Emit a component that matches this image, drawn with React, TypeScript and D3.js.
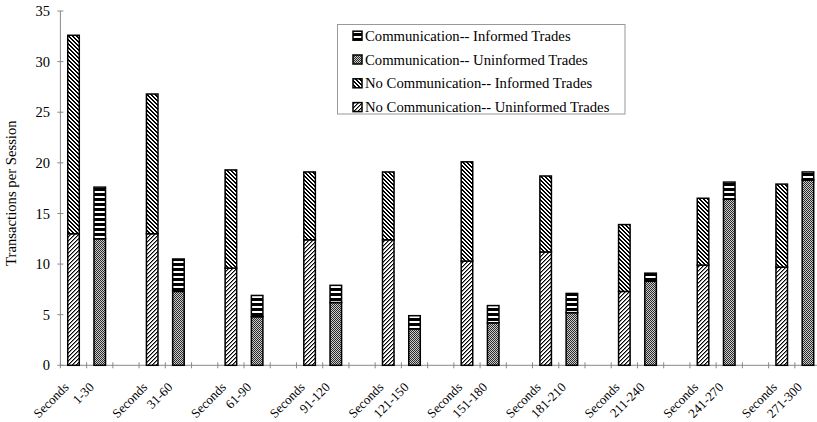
import React from "react";
import * as d3 from "d3";

// Session-time windows (seconds) for each group of bars
const periods = ["1-30", "31-60", "61-90", "91-120", "121-150", "151-180", "181-210", "211-240", "241-270", "271-300"];

// No-communication treatment (stacked: uninformed at bottom, informed on top)
const noCommUninformed = [13.0, 13.0, 9.6, 12.4, 12.4, 10.3, 11.2, 7.3, 9.9, 9.7];
const noCommInformed = [19.6, 13.8, 9.7, 6.7, 6.7, 9.8, 7.5, 6.6, 6.6, 8.2];

// Communication treatment
const commUninformed = [12.5, 7.3, 4.8, 6.2, 3.6, 4.2, 5.2, 8.3, 16.4, 18.3];
const commInformed = [5.1, 3.2, 2.1, 1.7, 1.3, 1.7, 1.9, 0.8, 1.7, 0.8];

const yTicks = [0, 5, 10, 15, 20, 25, 30, 35];
const yTitle = "Transactions per Session";
const groupWord = "Seconds";

const legendItems = [
  { label: "Communication-- Informed Trades", fill: "url(#pCommInf)" },
  { label: "Communication-- Uninformed Trades", fill: "url(#pCommUninf)" },
  { label: "No Communication-- Informed Trades", fill: "url(#pNoInf)" },
  { label: "No Communication-- Uninformed Trades", fill: "url(#pNoUninf)" },
];

const FONT = "'Liberation Serif', 'Times New Roman', serif";

// 4x4 pixel diagonal hatch built from 1px cells
function pixelCells(test: (x: number, y: number) => string | null) {
  const cells: { x: number; y: number; c: string }[] = [];
  for (let yy = 0; yy < 4; yy++)
    for (let xx = 0; xx < 4; xx++) {
      const c = test(xx, yy);
      if (c) cells.push({ x: xx, y: yy, c });
    }
  return cells;
}

export default function App() {
  const W = 817;
  const H = 422;

  const categories = periods.flatMap((_, i) => [`nc${i}`, `c${i}`, `gap${i}`]);
  const step = 26.23;
  const x0 = 60.4;
  const x = d3
    .scaleBand<string>()
    .domain(categories)
    .range([x0, x0 + step * categories.length])
    .padding(0);
  const barW = x.step() * 0.44;
  const y = d3.scaleLinear().domain([0, 35]).range([365.3, 11]);

  const stack = d3.stack<{ u: number; i: number }>().keys(["u", "i"]);
  const noCommStack = stack(periods.map((_, k) => ({ u: noCommUninformed[k], i: noCommInformed[k] })));
  const commStack = stack(periods.map((_, k) => ({ u: commUninformed[k], i: commInformed[k] })));

  const noFills = ["url(#pNoUninf)", "url(#pNoInf)"];
  const cFills = ["url(#pCommUninf)", "url(#pCommInf)"];

  const backslash = pixelCells((xx, yy) => (((xx - yy + 8) % 4) < 2 ? "#000" : null));
  const slash = pixelCells((xx, yy) => {
    const m = (xx + yy) % 4;
    return m === 0 ? "#000" : m === 1 ? "#888" : null;
  });

  const bars: JSX.Element[] = [];
  periods.forEach((_, k) => {
    [
      { key: `nc${k}`, st: noCommStack, fills: noFills },
      { key: `c${k}`, st: commStack, fills: cFills },
    ].forEach(({ key, st, fills }) => {
      const cx = (x(key) as number) + x.bandwidth() / 2;
      st.forEach((layer, li) => {
        const d = layer[k];
        bars.push(
          <rect
            key={`${key}-${li}`}
            x={cx - barW / 2}
            y={y(d[1])}
            width={barW}
            height={y(d[0]) - y(d[1])}
            fill={fills[li]}
            stroke="#000"
            strokeWidth={1.5}
          />
        );
      });
    });
  });

  const xAxisY = y(0);
  const boundaries = d3.range(categories.length + 1).map((i) => x0 + i * x.step());

  return (
    <>
      <style>{`body{margin:0;background:#fff}`}</style>
      <svg width={W} height={H} style={{ display: "block", fontFamily: FONT }}>
        <defs>
          <pattern id="pNoInf" width={4} height={4} patternUnits="userSpaceOnUse">
            <rect width={4} height={4} fill="#fff" />
            {backslash.map((c, i) => (
              <rect key={i} x={c.x} y={c.y} width={1} height={1} fill={c.c} shapeRendering="crispEdges" />
            ))}
          </pattern>
          <pattern id="pNoUninf" width={4} height={4} patternUnits="userSpaceOnUse">
            <rect width={4} height={4} fill="#fff" />
            {slash.map((c, i) => (
              <rect key={i} x={c.x} y={c.y} width={1} height={1} fill={c.c} shapeRendering="crispEdges" />
            ))}
          </pattern>
          <pattern id="pCommUninf" width={2} height={2} patternUnits="userSpaceOnUse">
            <rect width={2} height={2} fill="#cdcdcd" />
            <rect x={0} y={0} width={1} height={1} fill="#2a2a2a" shapeRendering="crispEdges" />
            <rect x={1} y={1} width={1} height={1} fill="#2a2a2a" shapeRendering="crispEdges" />
          </pattern>
          <pattern id="pCommInf" width={5} height={5} patternUnits="userSpaceOnUse">
            <rect width={5} height={5} fill="#000" />
            <rect x={0} y={1} width={5} height={2} fill="#fff" shapeRendering="crispEdges" />
          </pattern>
        </defs>

        {/* y axis */}
        <line x1={x0} x2={x0} y1={y(0)} y2={y(35)} stroke="#888" strokeWidth={1} />
        {yTicks.map((t) => (
          <g key={t}>
            <line x1={x0 - 3} x2={x0 + 3} y1={y(t)} y2={y(t)} stroke="#888" strokeWidth={1} />
            <text x={50} y={y(t)} dy="0.35em" textAnchor="end" fontSize={14.5} fill="#000">
              {t}
            </text>
          </g>
        ))}
        <text
          transform={`translate(16,${(y(0) + y(35)) / 2 + 5}) rotate(-90)`}
          textAnchor="middle"
          fontSize={14.7}
          fill="#000"
        >
          {yTitle}
        </text>

        {/* x axis */}
        <line x1={x0} x2={W} y1={xAxisY} y2={xAxisY} stroke="#888" strokeWidth={1} />
        {boundaries.map((bx, i) => (
          <line key={i} x1={bx} x2={bx} y1={xAxisY - 3} y2={xAxisY + 3} stroke="#888" strokeWidth={1} />
        ))}
        {periods.map((p, k) => {
          const c1 = (x(`nc${k}`) as number) + x.bandwidth() / 2;
          const c2 = (x(`c${k}`) as number) + x.bandwidth() / 2;
          return (
            <g key={p} fontSize={13} fill="#000">
              <text transform={`translate(${c1 - 4},388) rotate(-45)`} textAnchor="end">
                {groupWord}
              </text>
              <text transform={`translate(${c2 - 5},388) rotate(-45)`} textAnchor="end">
                {p}
              </text>
            </g>
          );
        })}

        {bars}

        {/* legend */}
        <rect x={337.5} y={24.5} width={287.5} height={89.5} fill="#fff" stroke="#999" strokeWidth={1} />
        {legendItems.map((it, i) => {
          const cy = 35.7 + i * 23.8;
          return (
            <g key={it.label}>
              <rect x={353} y={cy - 4.5} width={9} height={9} fill={it.fill} stroke="#000" strokeWidth={1.5} />
              <text x={365} y={cy} dy="0.35em" fontSize={14.7} fill="#000">
                {it.label}
              </text>
            </g>
          );
        })}
      </svg>
    </>
  );
}
